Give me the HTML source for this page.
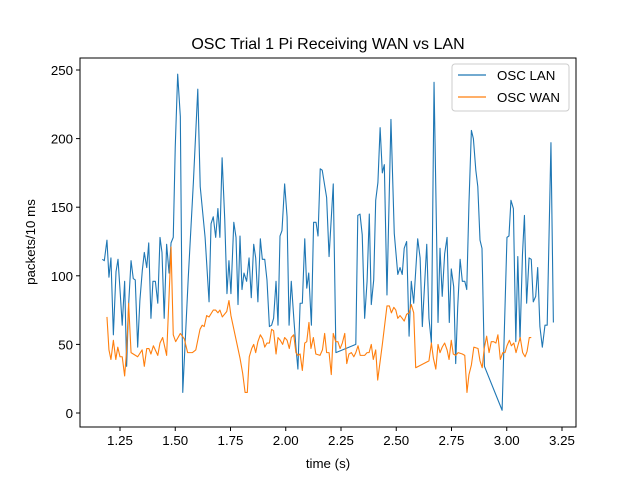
<!DOCTYPE html>
<html><head><meta charset="utf-8"><style>
body{margin:0;background:#fff;}
svg{font-family:"Liberation Sans","DejaVu Sans",sans-serif;}
</style></head><body>
<svg id="chart" width="640" height="480" viewBox="0 0 640 480" xmlns="http://www.w3.org/2000/svg">
<rect width="640" height="480" fill="#fff"/>
<text x="328" y="49" font-size="16" text-anchor="middle">OSC Trial 1 Pi Receiving WAN vs LAN</text>
<g id="plot"></g>
<text x="328" y="468" font-size="13.3" text-anchor="middle">time (s)</text>
<text transform="translate(35,242) rotate(-90)" font-size="13.3" text-anchor="middle">packets/10 ms</text>
<g>
<rect x="452" y="64" width="117" height="47" rx="3" fill="#fff" fill-opacity="0.8" stroke="#ccc"/>
<line x1="458" y1="75" x2="486" y2="75" stroke="#1f77b4" stroke-width="1.2"/>
<text x="497" y="80" font-size="13.3">OSC LAN</text>
<line x1="458" y1="97" x2="486" y2="97" stroke="#ff7f0e" stroke-width="1.2"/>
<text x="497" y="102" font-size="13.3">OSC WAN</text>
</g>
</svg>
<script>
const xTicks=[1.25,1.5,1.75,2.0,2.25,2.5,2.75,3.0,3.25];
const xTickLabels=["1.25","1.50","1.75","2.00","2.25","2.50","2.75","3.00","3.25"];
const yTicks=[0,50,100,150,200,250];
const lanT=[1.170,1.179,1.191,1.200,1.209,1.220,1.232,1.241,1.250,1.260,1.271,1.280,1.289,1.300,1.310,1.319,1.330,1.340,1.351,1.360,1.371,1.380,1.390,1.399,1.410,1.421,1.431,1.440,1.450,1.461,1.472,1.481,1.491,1.500,1.511,1.523,1.534,1.559,1.582,1.602,1.613,1.635,1.653,1.662,1.672,1.683,1.693,1.702,1.712,1.724,1.734,1.743,1.752,1.765,1.775,1.784,1.793,1.802,1.811,1.823,1.834,1.844,1.855,1.864,1.874,1.885,1.894,1.905,1.915,1.926,1.936,1.945,1.956,1.965,1.974,1.983,1.995,2.006,2.015,2.025,2.036,2.046,2.055,2.065,2.075,2.086,2.095,2.104,2.116,2.126,2.137,2.146,2.156,2.165,2.185,2.196,2.215,2.227,2.317,2.326,2.336,2.346,2.357,2.368,2.378,2.387,2.398,2.407,2.417,2.427,2.437,2.446,2.458,2.476,2.491,2.507,2.517,2.527,2.536,2.547,2.558,2.568,2.579,2.597,2.608,2.618,2.638,2.648,2.659,2.671,2.689,2.698,2.708,2.719,2.730,2.740,2.749,2.760,2.769,2.778,2.789,2.799,2.810,2.819,2.829,2.840,2.849,2.860,2.869,2.879,2.888,2.899,2.979,3.001,3.010,3.019,3.030,3.041,3.050,3.060,3.071,3.080,3.090,3.101,3.111,3.120,3.131,3.140,3.150,3.161,3.173,3.183,3.200,3.211];
const lanV=[112,111,126,99,113,57,103,112,90,64,96,34,79,111,98,97,48,82,104,117,106,124,69,96,96,80,128,117,69,123,102,124,128,194,247,216,15,99,168,236,165,128,81,138,143,128,149,128,186,141,87,111,87,139,128,79,129,90,102,96,113,84,123,113,81,127,112,112,97,63,64,69,96,64,129,133,167,143,64,96,70,48,32,80,80,127,91,102,64,139,139,129,178,177,157,114,167,44,50,144,145,130,69,96,145,79,97,155,168,208,175,181,86,214,131,101,106,101,120,125,56,96,80,127,113,63,123,69,51,241,66,120,85,116,128,66,105,92,36,77,112,96,96,90,153,206,200,177,165,126,120,34,2,128,129,155,149,52,114,53,115,144,80,113,112,81,85,106,63,48,64,64,197,66];
const wanT=[1.191,1.200,1.209,1.220,1.231,1.240,1.250,1.260,1.271,1.280,1.289,1.300,1.330,1.350,1.360,1.371,1.381,1.390,1.401,1.421,1.431,1.443,1.461,1.481,1.491,1.502,1.523,1.541,1.556,1.577,1.593,1.612,1.622,1.631,1.642,1.653,1.672,1.683,1.693,1.702,1.713,1.733,1.743,1.752,1.793,1.805,1.816,1.826,1.835,1.846,1.855,1.864,1.874,1.885,1.896,1.905,1.915,1.926,1.936,1.945,1.956,1.965,1.975,1.986,1.995,2.006,2.016,2.025,2.036,2.046,2.055,2.065,2.075,2.086,2.095,2.105,2.114,2.125,2.136,2.155,2.166,2.176,2.185,2.196,2.206,2.215,2.226,2.236,2.246,2.256,2.267,2.276,2.286,2.297,2.308,2.317,2.327,2.337,2.357,2.368,2.377,2.387,2.396,2.407,2.416,2.437,2.458,2.469,2.478,2.489,2.498,2.507,2.517,2.527,2.536,2.547,2.558,2.568,2.579,2.588,2.648,2.659,2.668,2.679,2.689,2.698,2.708,2.719,2.730,2.739,2.749,2.758,2.769,2.780,2.799,2.810,2.820,2.829,2.840,2.851,2.870,2.879,2.889,2.898,2.909,2.920,2.930,2.941,2.951,2.960,2.971,2.982,2.992,3.001,3.012,3.021,3.032,3.042,3.052,3.061,3.072,3.083,3.092,3.102,3.111];
const wanV=[70,46,39,53,39,48,41,41,27,46,80,44,41,46,34,47,47,43,49,42,51,55,42,121,57,52,58,54,44,44,46,61,64,63,71,70,75,75,73,75,70,74,82,71,40,29,15,15,41,47,50,44,52,57,54,48,51,51,61,60,43,55,53,50,55,53,47,55,57,44,42,43,31,51,52,66,47,55,43,42,46,58,44,44,28,58,52,52,47,51,58,36,43,44,41,44,49,42,42,44,44,50,39,46,24,50,78,78,73,77,75,69,71,69,67,72,73,79,73,33,38,51,40,32,50,44,48,51,46,39,53,43,42,44,43,42,15,28,35,48,47,38,33,47,56,44,52,52,51,57,39,44,44,49,53,49,51,44,50,55,44,41,45,55,55];

const L=80,R=576,T=58,B=427;
const X0=1.25,XPX0=120,XS=221;
const YPX0=413,YS=1.372;
function xs(v){return XPX0+(v-X0)*XS;}
function ys(v){return YPX0-v*YS;}
const NS="http://www.w3.org/2000/svg";
const plot=document.getElementById('plot');
function mk(tag,attrs,parent){const e=document.createElementNS(NS,tag);for(const k in attrs)e.setAttribute(k,attrs[k]);(parent||plot).appendChild(e);return e;}

function series(ts,vs,color,name){
  let d='';
  for(let i=0;i<ts.length;i++){d+=(i?'L':'M')+xs(ts[i]).toFixed(2)+','+ys(vs[i]).toFixed(2);}
  const p=mk('path',{d:d,fill:'none',stroke:color,'stroke-width':1.1,'stroke-linejoin':'round'});
  
  
}
series(lanT,lanV,'#1f77b4','osc-lan-line');
series(wanT,wanV,'#ff7f0e','osc-wan-line');

const frame=mk('rect',{x:L,y:T,width:R-L,height:B-T,fill:'none',stroke:'#000','stroke-width':1});



xTicks.forEach((t,i)=>{
  const x=xs(t);
  const tk=mk('line',{x1:x,y1:B,x2:x,y2:B+4,stroke:'#000'});
  
  
  const lb=mk('text',{x:x,y:B+18,'font-size':13.3,'text-anchor':'middle'});
  lb.textContent=xTickLabels[i];
  
  
});
yTicks.forEach(v=>{
  const y=ys(v);
  const tk=mk('line',{x1:L-4,y1:y,x2:L,y2:y,stroke:'#000'});
  
  
  const lb=mk('text',{x:L-7,y:y+5,'font-size':13.3,'text-anchor':'end'});
  lb.textContent=String(v);
  
  
});
</script>
</body></html>
